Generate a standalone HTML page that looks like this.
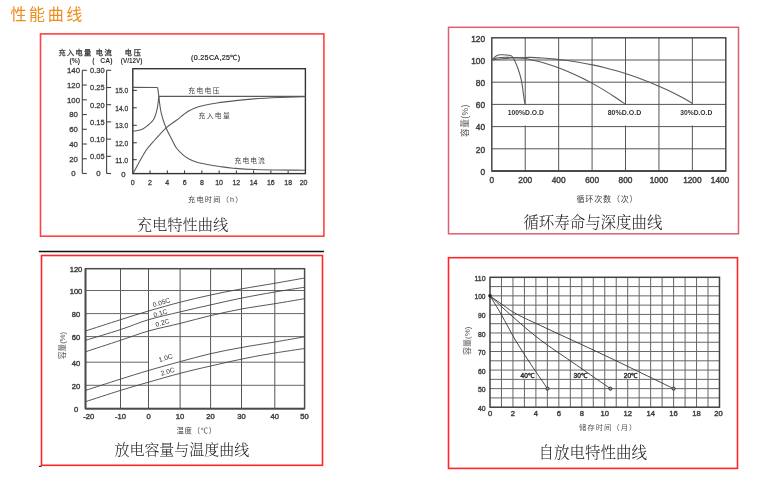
<!DOCTYPE html><html><head><meta charset="utf-8"><title>性能曲线</title>
<style>html,body{margin:0;padding:0;background:#fff;width:773px;height:486px;overflow:hidden}svg{display:block;will-change:transform}</style></head><body>
<svg width="773" height="486" viewBox="0 0 773 486">
<text x="10.5" y="20" font-size="16" text-anchor="start" fill="#ee8c1c" font-family="'Liberation Sans', 'Noto Sans CJK SC', sans-serif" font-weight="normal" letter-spacing="2.6">性能曲线</text>
<rect x="40.5" y="33.9" width="283.4" height="202.3" fill="none" stroke="#ff4242" stroke-width="1.6"/>
<rect x="448.5" y="27.3" width="290" height="206.5" fill="none" stroke="#dc6070" stroke-width="1.5"/>
<rect x="41.5" y="255.5" width="281" height="209.8" fill="none" stroke="#ff2626" stroke-width="1.6"/>
<rect x="448.5" y="257.7" width="289" height="210.7" fill="none" stroke="#ff2626" stroke-width="1.6"/>
<line x1="38.8" y1="251.5" x2="324" y2="251.5" stroke="#111" stroke-width="1.6"/>
<line x1="39" y1="466.4" x2="41.5" y2="466.4" stroke="#222" stroke-width="1.2"/>
<rect x="132.8" y="68.7" width="172.6" height="104.9" fill="none" stroke="#333" stroke-width="1.4"/>
<text x="132.8" y="185.2" font-size="7.0" text-anchor="middle" fill="#3a3a3a" font-family="'Liberation Sans', Arial, sans-serif" font-weight="normal"  stroke="#3a3a3a" stroke-width="0.28">0</text>
<line x1="150.06" y1="173.6" x2="150.06" y2="170.4" stroke="#333" stroke-width="1"/>
<text x="150.06" y="185.2" font-size="7.0" text-anchor="middle" fill="#3a3a3a" font-family="'Liberation Sans', Arial, sans-serif" font-weight="normal"  stroke="#3a3a3a" stroke-width="0.28">2</text>
<line x1="167.32" y1="173.6" x2="167.32" y2="170.4" stroke="#333" stroke-width="1"/>
<text x="167.32" y="185.2" font-size="7.0" text-anchor="middle" fill="#3a3a3a" font-family="'Liberation Sans', Arial, sans-serif" font-weight="normal"  stroke="#3a3a3a" stroke-width="0.28">4</text>
<line x1="184.58" y1="173.6" x2="184.58" y2="170.4" stroke="#333" stroke-width="1"/>
<text x="184.58" y="185.2" font-size="7.0" text-anchor="middle" fill="#3a3a3a" font-family="'Liberation Sans', Arial, sans-serif" font-weight="normal"  stroke="#3a3a3a" stroke-width="0.28">6</text>
<line x1="201.84" y1="173.6" x2="201.84" y2="170.4" stroke="#333" stroke-width="1"/>
<text x="201.84" y="185.2" font-size="7.0" text-anchor="middle" fill="#3a3a3a" font-family="'Liberation Sans', Arial, sans-serif" font-weight="normal"  stroke="#3a3a3a" stroke-width="0.28">8</text>
<line x1="219.1" y1="173.6" x2="219.1" y2="170.4" stroke="#333" stroke-width="1"/>
<text x="219.1" y="185.2" font-size="7.0" text-anchor="middle" fill="#3a3a3a" font-family="'Liberation Sans', Arial, sans-serif" font-weight="normal"  stroke="#3a3a3a" stroke-width="0.28">10</text>
<line x1="236.36" y1="173.6" x2="236.36" y2="170.4" stroke="#333" stroke-width="1"/>
<text x="236.36" y="185.2" font-size="7.0" text-anchor="middle" fill="#3a3a3a" font-family="'Liberation Sans', Arial, sans-serif" font-weight="normal"  stroke="#3a3a3a" stroke-width="0.28">12</text>
<line x1="253.62" y1="173.6" x2="253.62" y2="170.4" stroke="#333" stroke-width="1"/>
<text x="253.62" y="185.2" font-size="7.0" text-anchor="middle" fill="#3a3a3a" font-family="'Liberation Sans', Arial, sans-serif" font-weight="normal"  stroke="#3a3a3a" stroke-width="0.28">14</text>
<line x1="270.88" y1="173.6" x2="270.88" y2="170.4" stroke="#333" stroke-width="1"/>
<text x="270.88" y="185.2" font-size="7.0" text-anchor="middle" fill="#3a3a3a" font-family="'Liberation Sans', Arial, sans-serif" font-weight="normal"  stroke="#3a3a3a" stroke-width="0.28">16</text>
<line x1="288.14" y1="173.6" x2="288.14" y2="170.4" stroke="#333" stroke-width="1"/>
<text x="288.14" y="185.2" font-size="7.0" text-anchor="middle" fill="#3a3a3a" font-family="'Liberation Sans', Arial, sans-serif" font-weight="normal"  stroke="#3a3a3a" stroke-width="0.28">18</text>
<text x="303.6" y="185.2" font-size="7.0" text-anchor="middle" fill="#3a3a3a" font-family="'Liberation Sans', Arial, sans-serif" font-weight="normal"  stroke="#3a3a3a" stroke-width="0.28">20</text>
<line x1="132.8" y1="90.4" x2="136.8" y2="90.4" stroke="#333" stroke-width="1"/>
<text x="121.7" y="93.4" font-size="7.8" text-anchor="middle" fill="#3a3a3a" font-family="'Liberation Sans', Arial, sans-serif" font-weight="normal" textLength="13" lengthAdjust="spacingAndGlyphs" stroke="#3a3a3a" stroke-width="0.28">15.0</text>
<line x1="132.8" y1="107.8" x2="136.8" y2="107.8" stroke="#333" stroke-width="1"/>
<text x="121.7" y="110.8" font-size="7.8" text-anchor="middle" fill="#3a3a3a" font-family="'Liberation Sans', Arial, sans-serif" font-weight="normal" textLength="13" lengthAdjust="spacingAndGlyphs" stroke="#3a3a3a" stroke-width="0.28">14.0</text>
<line x1="132.8" y1="125.3" x2="136.8" y2="125.3" stroke="#333" stroke-width="1"/>
<text x="121.7" y="128.3" font-size="7.8" text-anchor="middle" fill="#3a3a3a" font-family="'Liberation Sans', Arial, sans-serif" font-weight="normal" textLength="13" lengthAdjust="spacingAndGlyphs" stroke="#3a3a3a" stroke-width="0.28">13.0</text>
<line x1="132.8" y1="142.8" x2="136.8" y2="142.8" stroke="#333" stroke-width="1"/>
<text x="121.7" y="145.8" font-size="7.8" text-anchor="middle" fill="#3a3a3a" font-family="'Liberation Sans', Arial, sans-serif" font-weight="normal" textLength="13" lengthAdjust="spacingAndGlyphs" stroke="#3a3a3a" stroke-width="0.28">12.0</text>
<line x1="132.8" y1="159.7" x2="136.8" y2="159.7" stroke="#333" stroke-width="1"/>
<text x="121.7" y="162.7" font-size="7.8" text-anchor="middle" fill="#3a3a3a" font-family="'Liberation Sans', Arial, sans-serif" font-weight="normal" textLength="13" lengthAdjust="spacingAndGlyphs" stroke="#3a3a3a" stroke-width="0.28">11.0</text>
<text x="123.3" y="176.5" font-size="7.8" text-anchor="middle" fill="#3a3a3a" font-family="'Liberation Sans', Arial, sans-serif" font-weight="normal"  stroke="#3a3a3a" stroke-width="0.28">0</text>
<line x1="82.3" y1="70.3" x2="82.3" y2="173.5" stroke="#444" stroke-width="1.1"/>
<line x1="82.3" y1="173.5" x2="86.8" y2="173.5" stroke="#444" stroke-width="1.1"/>
<text x="73.5" y="176.3" font-size="7.8" text-anchor="middle" fill="#3a3a3a" font-family="'Liberation Sans', Arial, sans-serif" font-weight="normal"  stroke="#3a3a3a" stroke-width="0.28">0</text>
<line x1="82.3" y1="158.76" x2="86.8" y2="158.76" stroke="#444" stroke-width="1.1"/>
<text x="73.5" y="161.56" font-size="7.8" text-anchor="middle" fill="#3a3a3a" font-family="'Liberation Sans', Arial, sans-serif" font-weight="normal"  stroke="#3a3a3a" stroke-width="0.28">20</text>
<line x1="82.3" y1="144.01" x2="86.8" y2="144.01" stroke="#444" stroke-width="1.1"/>
<text x="73.5" y="146.81" font-size="7.8" text-anchor="middle" fill="#3a3a3a" font-family="'Liberation Sans', Arial, sans-serif" font-weight="normal"  stroke="#3a3a3a" stroke-width="0.28">40</text>
<line x1="82.3" y1="129.27" x2="86.8" y2="129.27" stroke="#444" stroke-width="1.1"/>
<text x="73.5" y="132.07" font-size="7.8" text-anchor="middle" fill="#3a3a3a" font-family="'Liberation Sans', Arial, sans-serif" font-weight="normal"  stroke="#3a3a3a" stroke-width="0.28">60</text>
<line x1="82.3" y1="114.53" x2="86.8" y2="114.53" stroke="#444" stroke-width="1.1"/>
<text x="73.5" y="117.33" font-size="7.8" text-anchor="middle" fill="#3a3a3a" font-family="'Liberation Sans', Arial, sans-serif" font-weight="normal"  stroke="#3a3a3a" stroke-width="0.28">80</text>
<line x1="82.3" y1="99.79" x2="86.8" y2="99.79" stroke="#444" stroke-width="1.1"/>
<text x="73.5" y="102.59" font-size="7.8" text-anchor="middle" fill="#3a3a3a" font-family="'Liberation Sans', Arial, sans-serif" font-weight="normal"  stroke="#3a3a3a" stroke-width="0.28">100</text>
<line x1="82.3" y1="85.04" x2="86.8" y2="85.04" stroke="#444" stroke-width="1.1"/>
<text x="73.5" y="87.84" font-size="7.8" text-anchor="middle" fill="#3a3a3a" font-family="'Liberation Sans', Arial, sans-serif" font-weight="normal"  stroke="#3a3a3a" stroke-width="0.28">120</text>
<line x1="82.3" y1="70.3" x2="86.8" y2="70.3" stroke="#444" stroke-width="1.1"/>
<text x="73.5" y="73.1" font-size="7.8" text-anchor="middle" fill="#3a3a3a" font-family="'Liberation Sans', Arial, sans-serif" font-weight="normal"  stroke="#3a3a3a" stroke-width="0.28">140</text>
<line x1="106.6" y1="70.3" x2="106.6" y2="173.5" stroke="#444" stroke-width="1.1"/>
<line x1="106.6" y1="173.5" x2="111.1" y2="173.5" stroke="#444" stroke-width="1.1"/>
<text x="98.3" y="176.3" font-size="7.8" text-anchor="middle" fill="#3a3a3a" font-family="'Liberation Sans', Arial, sans-serif" font-weight="normal"  stroke="#3a3a3a" stroke-width="0.28">0</text>
<line x1="106.6" y1="156.3" x2="111.1" y2="156.3" stroke="#444" stroke-width="1.1"/>
<text x="97.3" y="159.1" font-size="7.8" text-anchor="middle" fill="#3a3a3a" font-family="'Liberation Sans', Arial, sans-serif" font-weight="normal" textLength="14.5" lengthAdjust="spacingAndGlyphs" stroke="#3a3a3a" stroke-width="0.28">0.05</text>
<line x1="106.6" y1="139.1" x2="111.1" y2="139.1" stroke="#444" stroke-width="1.1"/>
<text x="97.3" y="141.9" font-size="7.8" text-anchor="middle" fill="#3a3a3a" font-family="'Liberation Sans', Arial, sans-serif" font-weight="normal" textLength="14.5" lengthAdjust="spacingAndGlyphs" stroke="#3a3a3a" stroke-width="0.28">0.10</text>
<line x1="106.6" y1="121.9" x2="111.1" y2="121.9" stroke="#444" stroke-width="1.1"/>
<text x="97.3" y="124.7" font-size="7.8" text-anchor="middle" fill="#3a3a3a" font-family="'Liberation Sans', Arial, sans-serif" font-weight="normal" textLength="14.5" lengthAdjust="spacingAndGlyphs" stroke="#3a3a3a" stroke-width="0.28">0.15</text>
<line x1="106.6" y1="104.7" x2="111.1" y2="104.7" stroke="#444" stroke-width="1.1"/>
<text x="97.3" y="107.5" font-size="7.8" text-anchor="middle" fill="#3a3a3a" font-family="'Liberation Sans', Arial, sans-serif" font-weight="normal" textLength="14.5" lengthAdjust="spacingAndGlyphs" stroke="#3a3a3a" stroke-width="0.28">0.20</text>
<line x1="106.6" y1="87.5" x2="111.1" y2="87.5" stroke="#444" stroke-width="1.1"/>
<text x="97.3" y="90.3" font-size="7.8" text-anchor="middle" fill="#3a3a3a" font-family="'Liberation Sans', Arial, sans-serif" font-weight="normal" textLength="14.5" lengthAdjust="spacingAndGlyphs" stroke="#3a3a3a" stroke-width="0.28">0.25</text>
<line x1="106.6" y1="70.3" x2="111.1" y2="70.3" stroke="#444" stroke-width="1.1"/>
<text x="97.3" y="73.1" font-size="7.8" text-anchor="middle" fill="#3a3a3a" font-family="'Liberation Sans', Arial, sans-serif" font-weight="normal" textLength="14.5" lengthAdjust="spacingAndGlyphs" stroke="#3a3a3a" stroke-width="0.28">0.30</text>
<text x="58.5" y="54.8" font-size="7.2" text-anchor="start" fill="#333" font-family="'Liberation Sans', 'Noto Sans CJK SC', sans-serif" font-weight="normal" letter-spacing="1.35" stroke="#333" stroke-width="0.25">充入电量</text>
<text x="95.8" y="54.8" font-size="7.2" text-anchor="start" fill="#333" font-family="'Liberation Sans', 'Noto Sans CJK SC', sans-serif" font-weight="normal" letter-spacing="1.6" stroke="#333" stroke-width="0.25">电流</text>
<text x="124.8" y="54.8" font-size="7.2" text-anchor="start" fill="#333" font-family="'Liberation Sans', 'Noto Sans CJK SC', sans-serif" font-weight="normal" letter-spacing="1.8" stroke="#333" stroke-width="0.25">电压</text>
<text x="69.5" y="62.5" font-size="6.8" text-anchor="start" fill="#333" font-family="'Liberation Sans', Arial, sans-serif" font-weight="bold" >(%)</text>
<text x="92.2" y="62.5" font-size="6.8" text-anchor="start" fill="#333" font-family="'Liberation Sans', Arial, sans-serif" font-weight="bold" textLength="20.3" lengthAdjust="spacing">(&#160;&#160;&#160;CA)</text>
<text x="120.8" y="62.5" font-size="6.8" text-anchor="start" fill="#333" font-family="'Liberation Sans', Arial, sans-serif" font-weight="bold" textLength="21.5" lengthAdjust="spacingAndGlyphs">(V/12V)</text>
<text x="191" y="60.3" font-size="7.1" text-anchor="start" fill="#222" font-family="'Liberation Sans', Arial, sans-serif" font-weight="normal" stroke="#222" stroke-width="0.2" textLength="49" lengthAdjust="spacing">(0.25CA,25℃)</text>
<text x="188.3" y="93.3" font-size="6.8" text-anchor="start" fill="#444" font-family="'Liberation Sans', 'Noto Sans CJK SC', sans-serif" font-weight="normal" letter-spacing="1.35">充电电压</text>
<text x="198.5" y="118.4" font-size="6.8" text-anchor="start" fill="#444" font-family="'Liberation Sans', 'Noto Sans CJK SC', sans-serif" font-weight="normal" letter-spacing="1.35">充入电量</text>
<text x="234.6" y="163.4" font-size="6.8" text-anchor="start" fill="#444" font-family="'Liberation Sans', 'Noto Sans CJK SC', sans-serif" font-weight="normal" letter-spacing="1">充电电流</text>
<text x="188" y="201.6" font-size="7.2" text-anchor="start" fill="#444" font-family="'Liberation Sans', 'Noto Sans CJK SC', sans-serif" font-weight="normal" textLength="54.5" lengthAdjust="spacing">充电时间（h）</text>
<text x="136.8" y="229.5" font-size="15.25" text-anchor="start" fill="#222" font-family="'Liberation Serif', 'Noto Serif CJK SC', serif" font-weight="300" >充电特性曲线</text>
<path d="M133.2,131.2 C134.58,130.93 139.13,130.52 141.5,129.6 C143.87,128.68 145.38,127.38 147.4,125.7 C149.42,124.02 152.05,121.97 153.6,119.5 C155.15,117.03 155.95,113.65 156.7,110.9 C157.45,108.15 157.75,105.43 158.1,103 C158.45,100.57 158.68,97.42 158.8,96.3" fill="none" stroke="#5a5a5a" stroke-width="1.1" stroke-linejoin="round"/>
<line x1="158.8" y1="96.4" x2="305.4" y2="96.4" stroke="#5a5a5a" stroke-width="1.1"/>
<polyline points="132.8,87.4 157.6,87.5" fill="none" stroke="#5a5a5a" stroke-width="1.1" stroke-linejoin="round"/>
<path d="M157.6,87.5 C157.8,88.92 158.43,93.13 158.8,96 C159.17,98.87 159.33,101.6 159.8,104.7 C160.27,107.8 160.58,110.8 161.6,114.6 C162.62,118.4 164.15,123.27 165.9,127.5 C167.65,131.73 170.35,136.58 172.1,140 C173.85,143.42 174.48,145.45 176.4,148 C178.32,150.55 181.33,153.38 183.6,155.3 C185.87,157.22 187.77,158.33 190,159.5 C192.23,160.67 194.12,161.47 197,162.3 C199.88,163.13 203.51,163.8 207.3,164.5 C211.09,165.2 215.47,165.88 219.75,166.5 C224.03,167.12 227.24,167.7 233,168.2 C238.76,168.7 242.3,169.15 254.3,169.5 C266.3,169.85 296.55,170.17 305,170.3" fill="none" stroke="#5a5a5a" stroke-width="1.1" stroke-linejoin="round"/>
<path d="M133.2,173.3 C134.4,171.08 138.1,164.05 140.4,160 C142.7,155.95 144.6,152.33 147,149 C149.4,145.67 151.65,143.48 154.8,140 C157.95,136.52 162.3,131.38 165.9,128.1 C169.5,124.82 172.75,123.07 176.4,120.3 C180.05,117.53 184.12,113.77 187.8,111.5 C191.48,109.23 193.63,108.12 198.5,106.7 C203.37,105.28 210.82,104.02 217,103 C223.18,101.98 229.43,101.28 235.6,100.6 C241.77,99.92 246.6,99.42 254,98.9 C261.4,98.38 271.5,97.88 280,97.5 C288.5,97.12 300.83,96.75 305,96.6" fill="none" stroke="#5a5a5a" stroke-width="1.1" stroke-linejoin="round"/>
<line x1="525.23" y1="37.8" x2="525.23" y2="171" stroke="#555" stroke-width="1"/>
<line x1="558.66" y1="37.8" x2="558.66" y2="171" stroke="#555" stroke-width="1"/>
<line x1="592.09" y1="37.8" x2="592.09" y2="171" stroke="#555" stroke-width="1"/>
<line x1="625.51" y1="37.8" x2="625.51" y2="171" stroke="#555" stroke-width="1"/>
<line x1="658.94" y1="37.8" x2="658.94" y2="171" stroke="#555" stroke-width="1"/>
<line x1="692.37" y1="37.8" x2="692.37" y2="171" stroke="#555" stroke-width="1"/>
<line x1="491.8" y1="60" x2="725.8" y2="60" stroke="#555" stroke-width="1"/>
<line x1="491.8" y1="82.2" x2="725.8" y2="82.2" stroke="#555" stroke-width="1"/>
<line x1="491.8" y1="104.4" x2="725.8" y2="104.4" stroke="#555" stroke-width="1"/>
<line x1="491.8" y1="126.6" x2="725.8" y2="126.6" stroke="#555" stroke-width="1"/>
<line x1="491.8" y1="148.8" x2="725.8" y2="148.8" stroke="#555" stroke-width="1"/>
<rect x="491.8" y="37.8" width="234" height="133.2" fill="none" stroke="#4a4a4a" stroke-width="1.5"/>
<line x1="491.8" y1="171" x2="725.8" y2="171" stroke="#4a4a4a" stroke-width="1.8"/>
<text x="485" y="174.8" font-size="8.3" text-anchor="end" fill="#444" font-family="'Liberation Sans', Arial, sans-serif" font-weight="normal"  stroke="#444" stroke-width="0.45">0</text>
<text x="485" y="152.6" font-size="8.3" text-anchor="end" fill="#444" font-family="'Liberation Sans', Arial, sans-serif" font-weight="normal"  stroke="#444" stroke-width="0.45">20</text>
<text x="485" y="130.4" font-size="8.3" text-anchor="end" fill="#444" font-family="'Liberation Sans', Arial, sans-serif" font-weight="normal"  stroke="#444" stroke-width="0.45">40</text>
<text x="485" y="108.2" font-size="8.3" text-anchor="end" fill="#444" font-family="'Liberation Sans', Arial, sans-serif" font-weight="normal"  stroke="#444" stroke-width="0.45">60</text>
<text x="485" y="86" font-size="8.3" text-anchor="end" fill="#444" font-family="'Liberation Sans', Arial, sans-serif" font-weight="normal"  stroke="#444" stroke-width="0.45">80</text>
<text x="485" y="63.8" font-size="8.3" text-anchor="end" fill="#444" font-family="'Liberation Sans', Arial, sans-serif" font-weight="normal"  stroke="#444" stroke-width="0.45">100</text>
<text x="485" y="41.6" font-size="8.3" text-anchor="end" fill="#444" font-family="'Liberation Sans', Arial, sans-serif" font-weight="normal"  stroke="#444" stroke-width="0.45">120</text>
<text x="491.8" y="182.6" font-size="8.3" text-anchor="middle" fill="#444" font-family="'Liberation Sans', Arial, sans-serif" font-weight="normal"  stroke="#444" stroke-width="0.45">0</text>
<text x="525.23" y="182.6" font-size="8.3" text-anchor="middle" fill="#444" font-family="'Liberation Sans', Arial, sans-serif" font-weight="normal"  stroke="#444" stroke-width="0.45">200</text>
<text x="558.66" y="182.6" font-size="8.3" text-anchor="middle" fill="#444" font-family="'Liberation Sans', Arial, sans-serif" font-weight="normal"  stroke="#444" stroke-width="0.45">400</text>
<text x="592.09" y="182.6" font-size="8.3" text-anchor="middle" fill="#444" font-family="'Liberation Sans', Arial, sans-serif" font-weight="normal"  stroke="#444" stroke-width="0.45">600</text>
<text x="625.51" y="182.6" font-size="8.3" text-anchor="middle" fill="#444" font-family="'Liberation Sans', Arial, sans-serif" font-weight="normal"  stroke="#444" stroke-width="0.45">800</text>
<text x="658.94" y="182.6" font-size="8.3" text-anchor="middle" fill="#444" font-family="'Liberation Sans', Arial, sans-serif" font-weight="normal"  stroke="#444" stroke-width="0.45">1000</text>
<text x="692.37" y="182.6" font-size="8.3" text-anchor="middle" fill="#444" font-family="'Liberation Sans', Arial, sans-serif" font-weight="normal"  stroke="#444" stroke-width="0.45">1200</text>
<text x="720" y="182.6" font-size="8.3" text-anchor="middle" fill="#444" font-family="'Liberation Sans', Arial, sans-serif" font-weight="normal"  stroke="#444" stroke-width="0.45">1400</text>
<rect x="506.5" y="105" width="38.5" height="20.5" fill="#fff"/>
<text x="507.7" y="115.3" font-size="6.8" text-anchor="start" fill="#333" font-family="'Liberation Sans', Arial, sans-serif" font-weight="bold" textLength="36.1" lengthAdjust="spacingAndGlyphs">100%D.O.D</text>
<rect x="606.5" y="105" width="36" height="20.5" fill="#fff"/>
<text x="607.7" y="115.3" font-size="6.8" text-anchor="start" fill="#333" font-family="'Liberation Sans', Arial, sans-serif" font-weight="bold" textLength="33.6" lengthAdjust="spacingAndGlyphs">80%D.O.D</text>
<rect x="679" y="105" width="34.5" height="20.5" fill="#fff"/>
<text x="680.2" y="115.3" font-size="6.8" text-anchor="start" fill="#333" font-family="'Liberation Sans', Arial, sans-serif" font-weight="bold" textLength="32.1" lengthAdjust="spacingAndGlyphs">30%D.O.D</text>
<path d="M491.8,59.8 C492.72,59.05 495.43,56.13 497.3,55.3 C499.17,54.47 501.05,54.8 503,54.8 C504.95,54.8 507.4,54.93 509,55.3 C510.6,55.67 511.18,55 512.6,57 C514.02,59 516.03,63.42 517.5,67.3 C518.97,71.18 520.43,75.98 521.4,80.3 C522.37,84.62 522.73,89.3 523.3,93.2 C523.87,97.1 524.55,101.95 524.8,103.7" fill="none" stroke="#5a5a5a" stroke-width="1.1" stroke-linejoin="round"/>
<path d="M491.8,59.8 C492.83,59.47 495.8,58.23 498,57.8 C500.2,57.37 502.17,57.23 505,57.2 C507.83,57.17 512.17,57.45 515,57.6 C517.83,57.75 519.83,57.87 522,58.1 C524.17,58.33 525.2,58.41 528,58.99 C530.8,59.56 535.2,60.61 538.8,61.57 C542.4,62.53 546,63.6 549.6,64.76 C553.2,65.93 556.8,67.2 560.4,68.57 C564,69.93 567.6,71.4 571.2,72.98 C574.8,74.55 578.4,76.22 582,77.99 C585.6,79.77 589.2,81.64 592.8,83.62 C596.4,85.6 600,87.68 603.6,89.86 C607.2,92.04 610.8,94.32 614.4,96.7 C618,99.08 623.4,102.91 625.2,104.15" fill="none" stroke="#5a5a5a" stroke-width="1.1" stroke-linejoin="round"/>
<path d="M491.8,59.8 C493.17,59.67 496.63,59.3 500,59 C503.37,58.7 508.33,58.22 512,58 C515.67,57.78 519,57.8 522,57.7 C525,57.6 526.58,57.34 530,57.4 C533.42,57.46 538.33,57.77 542.49,58.06 C546.66,58.34 550.82,58.69 554.98,59.11 C559.15,59.53 563.31,60.01 567.48,60.57 C571.64,61.13 575.81,61.76 579.97,62.48 C584.13,63.19 588.3,63.97 592.46,64.84 C596.63,65.71 600.79,66.66 604.95,67.69 C609.12,68.73 613.28,69.84 617.45,71.05 C621.61,72.26 625.77,73.55 629.94,74.94 C634.1,76.33 638.27,77.81 642.43,79.39 C646.59,80.97 650.76,82.64 654.92,84.42 C659.09,86.2 663.25,88.07 667.42,90.05 C671.58,92.03 675.74,94.11 679.91,96.31 C684.07,98.5 690.32,102.06 692.4,103.22" fill="none" stroke="#5a5a5a" stroke-width="1.1" stroke-linejoin="round"/>
<text x="467.5" y="120.5" font-size="8.6" text-anchor="middle" fill="#555" font-family="'Liberation Sans', 'Noto Sans CJK SC', sans-serif" font-weight="normal" letter-spacing="0.45" transform="rotate(-90 467.5 120.5)">容量(%)</text>
<text x="576.5" y="201.5" font-size="8.1" text-anchor="start" fill="#444" font-family="'Liberation Sans', 'Noto Sans CJK SC', sans-serif" font-weight="normal" letter-spacing="0.75">循环次数（次）</text>
<text x="523.4" y="228.4" font-size="15.45" text-anchor="start" fill="#222" font-family="'Liberation Serif', 'Noto Serif CJK SC', serif" font-weight="300" >循环寿命与深度曲线</text>
<line x1="120.5" y1="268.7" x2="120.5" y2="408.7" stroke="#555" stroke-width="1"/>
<line x1="148.5" y1="268.7" x2="148.5" y2="408.7" stroke="#555" stroke-width="1"/>
<line x1="180.1" y1="268.7" x2="180.1" y2="408.7" stroke="#555" stroke-width="1"/>
<line x1="210.6" y1="268.7" x2="210.6" y2="408.7" stroke="#555" stroke-width="1"/>
<line x1="241.5" y1="268.7" x2="241.5" y2="408.7" stroke="#555" stroke-width="1"/>
<line x1="274.8" y1="268.7" x2="274.8" y2="408.7" stroke="#555" stroke-width="1"/>
<line x1="85.5" y1="290.5" x2="304.6" y2="290.5" stroke="#666" stroke-width="1"/>
<line x1="85.5" y1="336.6" x2="304.6" y2="336.6" stroke="#666" stroke-width="1"/>
<line x1="85.5" y1="385.3" x2="304.6" y2="385.3" stroke="#666" stroke-width="1"/>
<line x1="85.5" y1="313.6" x2="148.5" y2="313.6" stroke="#666" stroke-width="1"/>
<line x1="180.1" y1="313.6" x2="304.6" y2="313.6" stroke="#666" stroke-width="1"/>
<line x1="85.5" y1="362.2" x2="148.5" y2="362.2" stroke="#666" stroke-width="1"/>
<line x1="180.1" y1="362.2" x2="304.6" y2="362.2" stroke="#666" stroke-width="1"/>
<rect x="85.5" y="268.7" width="219.1" height="140" fill="none" stroke="#4a4a4a" stroke-width="1.5"/>
<line x1="85.5" y1="408.7" x2="304.6" y2="408.7" stroke="#4a4a4a" stroke-width="1.7"/>
<line x1="85.5" y1="268.7" x2="85.5" y2="408.7" stroke="#4a4a4a" stroke-width="1.7"/>
<text x="76" y="272" font-size="7.6" text-anchor="middle" fill="#444" font-family="'Liberation Sans', Arial, sans-serif" font-weight="normal"  stroke="#444" stroke-width="0.45">120</text>
<text x="76" y="293.8" font-size="7.6" text-anchor="middle" fill="#444" font-family="'Liberation Sans', Arial, sans-serif" font-weight="normal"  stroke="#444" stroke-width="0.45">100</text>
<text x="76" y="316.9" font-size="7.6" text-anchor="middle" fill="#444" font-family="'Liberation Sans', Arial, sans-serif" font-weight="normal"  stroke="#444" stroke-width="0.45">80</text>
<text x="76" y="339.9" font-size="7.6" text-anchor="middle" fill="#444" font-family="'Liberation Sans', Arial, sans-serif" font-weight="normal"  stroke="#444" stroke-width="0.45">60</text>
<text x="76" y="365.5" font-size="7.6" text-anchor="middle" fill="#444" font-family="'Liberation Sans', Arial, sans-serif" font-weight="normal"  stroke="#444" stroke-width="0.45">40</text>
<text x="76" y="388.6" font-size="7.6" text-anchor="middle" fill="#444" font-family="'Liberation Sans', Arial, sans-serif" font-weight="normal"  stroke="#444" stroke-width="0.45">20</text>
<text x="76" y="412" font-size="7.6" text-anchor="middle" fill="#444" font-family="'Liberation Sans', Arial, sans-serif" font-weight="normal"  stroke="#444" stroke-width="0.45">0</text>
<text x="88.8" y="419.2" font-size="7.6" text-anchor="middle" fill="#444" font-family="'Liberation Sans', Arial, sans-serif" font-weight="normal"  stroke="#444" stroke-width="0.45">-20</text>
<text x="120.5" y="419.2" font-size="7.6" text-anchor="middle" fill="#444" font-family="'Liberation Sans', Arial, sans-serif" font-weight="normal"  stroke="#444" stroke-width="0.45">-10</text>
<text x="148.5" y="419.2" font-size="7.6" text-anchor="middle" fill="#444" font-family="'Liberation Sans', Arial, sans-serif" font-weight="normal"  stroke="#444" stroke-width="0.45">0</text>
<text x="180.1" y="419.2" font-size="7.6" text-anchor="middle" fill="#444" font-family="'Liberation Sans', Arial, sans-serif" font-weight="normal"  stroke="#444" stroke-width="0.45">10</text>
<text x="210.6" y="419.2" font-size="7.6" text-anchor="middle" fill="#444" font-family="'Liberation Sans', Arial, sans-serif" font-weight="normal"  stroke="#444" stroke-width="0.45">20</text>
<text x="241.5" y="419.2" font-size="7.6" text-anchor="middle" fill="#444" font-family="'Liberation Sans', Arial, sans-serif" font-weight="normal"  stroke="#444" stroke-width="0.45">30</text>
<text x="274.8" y="419.2" font-size="7.6" text-anchor="middle" fill="#444" font-family="'Liberation Sans', Arial, sans-serif" font-weight="normal"  stroke="#444" stroke-width="0.45">40</text>
<text x="304.6" y="419.2" font-size="7.6" text-anchor="middle" fill="#444" font-family="'Liberation Sans', Arial, sans-serif" font-weight="normal"  stroke="#444" stroke-width="0.45">50</text>
<path d="M85.5,331 C91.33,329.12 110,323.03 120.5,319.7 C131,316.37 138.55,313.92 148.5,311 C158.45,308.08 169.85,304.87 180.2,302.2 C190.55,299.53 200.38,297.22 210.6,295 C220.82,292.78 230.8,290.85 241.5,288.9 C252.2,286.95 264.28,285.12 274.8,283.3 C285.32,281.48 299.63,278.88 304.6,278" fill="none" stroke="#444" stroke-width="0.9" stroke-linejoin="round"/>
<path d="M85.5,340.3 C91.33,338.52 110,333.03 120.5,329.6 C131,326.17 138.55,322.65 148.5,319.7 C158.45,316.75 169.85,314.37 180.2,311.9 C190.55,309.43 200.38,307.2 210.6,304.9 C220.82,302.6 230.8,300.25 241.5,298.1 C252.2,295.95 264.28,293.82 274.8,292 C285.32,290.18 299.63,288 304.6,287.2" fill="none" stroke="#444" stroke-width="0.9" stroke-linejoin="round"/>
<path d="M85.5,351.8 C91.33,349.88 110,343.77 120.5,340.3 C131,336.83 138.55,333.82 148.5,331 C158.45,328.18 169.85,325.97 180.2,323.4 C190.55,320.83 200.38,318 210.6,315.6 C220.82,313.2 230.8,310.98 241.5,309 C252.2,307.02 264.28,305.42 274.8,303.7 C285.32,301.98 299.63,299.53 304.6,298.7" fill="none" stroke="#444" stroke-width="0.9" stroke-linejoin="round"/>
<path d="M85.5,390.4 C91.33,388.52 110,382.42 120.5,379.1 C131,375.78 138.55,373.42 148.5,370.5 C158.45,367.58 169.85,364.4 180.2,361.6 C190.55,358.8 200.38,356.05 210.6,353.7 C220.82,351.35 230.8,349.45 241.5,347.5 C252.2,345.55 264.28,343.78 274.8,342 C285.32,340.22 299.63,337.67 304.6,336.8" fill="none" stroke="#444" stroke-width="0.9" stroke-linejoin="round"/>
<path d="M85.5,401.7 C91.33,399.82 110,393.65 120.5,390.4 C131,387.15 138.55,385.05 148.5,382.2 C158.45,379.35 169.85,376 180.2,373.3 C190.55,370.6 199.47,368.55 210.6,366 C221.73,363.45 236.3,360.17 247,358 C257.7,355.83 265.2,354.58 274.8,353 C284.4,351.42 299.63,349.25 304.6,348.5" fill="none" stroke="#444" stroke-width="0.9" stroke-linejoin="round"/>
<text x="153.6" y="307.3" font-size="6.7" text-anchor="start" fill="#333" font-family="'Liberation Sans', Arial, sans-serif" font-weight="normal" transform="rotate(-17 153.6 307.3)">0.05C</text>
<text x="154.3" y="317.5" font-size="6.7" text-anchor="start" fill="#333" font-family="'Liberation Sans', Arial, sans-serif" font-weight="normal" transform="rotate(-17 154.3 317.5)">0.1C</text>
<text x="156.3" y="327" font-size="6.7" text-anchor="start" fill="#333" font-family="'Liberation Sans', Arial, sans-serif" font-weight="normal" transform="rotate(-17 156.3 327)">0.2C</text>
<text x="159.6" y="362.2" font-size="6.7" text-anchor="start" fill="#333" font-family="'Liberation Sans', Arial, sans-serif" font-weight="normal" transform="rotate(-17 159.6 362.2)">1.0C</text>
<text x="161.6" y="375.8" font-size="6.7" text-anchor="start" fill="#333" font-family="'Liberation Sans', Arial, sans-serif" font-weight="normal" transform="rotate(-17 161.6 375.8)">2.0C</text>
<text x="65" y="345.5" font-size="7.6" text-anchor="middle" fill="#555" font-family="'Liberation Sans', 'Noto Sans CJK SC', sans-serif" font-weight="normal" transform="rotate(-90 65 345.5)">容量(%)</text>
<text x="176.5" y="433" font-size="7.4" text-anchor="start" fill="#444" font-family="'Liberation Sans', 'Noto Sans CJK SC', sans-serif" font-weight="normal" letter-spacing="0.7">温度（℃）</text>
<text x="114.5" y="455" font-size="14.96" text-anchor="start" fill="#222" font-family="'Liberation Serif', 'Noto Serif CJK SC', serif" font-weight="300" >放电容量与温度曲线</text>
<line x1="501.48" y1="277.3" x2="501.48" y2="407.2" stroke="#666" stroke-width="1"/>
<line x1="512.95" y1="277.3" x2="512.95" y2="407.2" stroke="#666" stroke-width="1"/>
<line x1="524.42" y1="277.3" x2="524.42" y2="407.2" stroke="#666" stroke-width="1"/>
<line x1="535.9" y1="277.3" x2="535.9" y2="407.2" stroke="#666" stroke-width="1"/>
<line x1="547.38" y1="277.3" x2="547.38" y2="407.2" stroke="#666" stroke-width="1"/>
<line x1="558.85" y1="277.3" x2="558.85" y2="407.2" stroke="#666" stroke-width="1"/>
<line x1="570.33" y1="277.3" x2="570.33" y2="407.2" stroke="#666" stroke-width="1"/>
<line x1="581.8" y1="277.3" x2="581.8" y2="407.2" stroke="#666" stroke-width="1"/>
<line x1="593.27" y1="277.3" x2="593.27" y2="407.2" stroke="#666" stroke-width="1"/>
<line x1="604.75" y1="277.3" x2="604.75" y2="407.2" stroke="#666" stroke-width="1"/>
<line x1="616.23" y1="277.3" x2="616.23" y2="407.2" stroke="#666" stroke-width="1"/>
<line x1="627.7" y1="277.3" x2="627.7" y2="407.2" stroke="#666" stroke-width="1"/>
<line x1="639.17" y1="277.3" x2="639.17" y2="407.2" stroke="#666" stroke-width="1"/>
<line x1="650.65" y1="277.3" x2="650.65" y2="407.2" stroke="#666" stroke-width="1"/>
<line x1="662.12" y1="277.3" x2="662.12" y2="407.2" stroke="#666" stroke-width="1"/>
<line x1="673.6" y1="277.3" x2="673.6" y2="407.2" stroke="#666" stroke-width="1"/>
<line x1="685.08" y1="277.3" x2="685.08" y2="407.2" stroke="#666" stroke-width="1"/>
<line x1="696.55" y1="277.3" x2="696.55" y2="407.2" stroke="#666" stroke-width="1"/>
<line x1="708.02" y1="277.3" x2="708.02" y2="407.2" stroke="#666" stroke-width="1"/>
<line x1="490" y1="286.58" x2="719.5" y2="286.58" stroke="#666" stroke-width="1"/>
<line x1="490" y1="295.86" x2="719.5" y2="295.86" stroke="#666" stroke-width="1"/>
<line x1="490" y1="305.14" x2="719.5" y2="305.14" stroke="#666" stroke-width="1"/>
<line x1="490" y1="314.41" x2="719.5" y2="314.41" stroke="#666" stroke-width="1"/>
<line x1="490" y1="323.69" x2="719.5" y2="323.69" stroke="#666" stroke-width="1"/>
<line x1="490" y1="332.97" x2="719.5" y2="332.97" stroke="#666" stroke-width="1"/>
<line x1="490" y1="342.25" x2="719.5" y2="342.25" stroke="#666" stroke-width="1"/>
<line x1="490" y1="351.53" x2="719.5" y2="351.53" stroke="#666" stroke-width="1"/>
<line x1="490" y1="360.81" x2="719.5" y2="360.81" stroke="#666" stroke-width="1"/>
<line x1="490" y1="370.09" x2="719.5" y2="370.09" stroke="#666" stroke-width="1"/>
<line x1="490" y1="379.36" x2="719.5" y2="379.36" stroke="#666" stroke-width="1"/>
<line x1="490" y1="388.64" x2="719.5" y2="388.64" stroke="#666" stroke-width="1"/>
<line x1="490" y1="397.92" x2="719.5" y2="397.92" stroke="#666" stroke-width="1"/>
<rect x="490" y="277.3" width="229.5" height="129.9" fill="none" stroke="#404040" stroke-width="1.5"/>
<text x="485.5" y="410.8" font-size="8" text-anchor="end" fill="#444" font-family="'Liberation Sans', Arial, sans-serif" font-weight="normal" textLength="7.6" lengthAdjust="spacingAndGlyphs" stroke="#444" stroke-width="0.45">40</text>
<text x="485.5" y="392.24" font-size="8" text-anchor="end" fill="#444" font-family="'Liberation Sans', Arial, sans-serif" font-weight="normal" textLength="7.6" lengthAdjust="spacingAndGlyphs" stroke="#444" stroke-width="0.45">50</text>
<text x="485.5" y="373.69" font-size="8" text-anchor="end" fill="#444" font-family="'Liberation Sans', Arial, sans-serif" font-weight="normal" textLength="7.6" lengthAdjust="spacingAndGlyphs" stroke="#444" stroke-width="0.45">60</text>
<text x="485.5" y="355.13" font-size="8" text-anchor="end" fill="#444" font-family="'Liberation Sans', Arial, sans-serif" font-weight="normal" textLength="7.6" lengthAdjust="spacingAndGlyphs" stroke="#444" stroke-width="0.45">70</text>
<text x="485.5" y="336.57" font-size="8" text-anchor="end" fill="#444" font-family="'Liberation Sans', Arial, sans-serif" font-weight="normal" textLength="7.6" lengthAdjust="spacingAndGlyphs" stroke="#444" stroke-width="0.45">80</text>
<text x="485.5" y="318.01" font-size="8" text-anchor="end" fill="#444" font-family="'Liberation Sans', Arial, sans-serif" font-weight="normal" textLength="7.6" lengthAdjust="spacingAndGlyphs" stroke="#444" stroke-width="0.45">90</text>
<text x="485.5" y="299.46" font-size="8" text-anchor="end" fill="#444" font-family="'Liberation Sans', Arial, sans-serif" font-weight="normal" textLength="11" lengthAdjust="spacingAndGlyphs" stroke="#444" stroke-width="0.45">100</text>
<text x="485.5" y="280.9" font-size="8" text-anchor="end" fill="#444" font-family="'Liberation Sans', Arial, sans-serif" font-weight="normal" textLength="11" lengthAdjust="spacingAndGlyphs" stroke="#444" stroke-width="0.45">110</text>
<text x="490" y="416.2" font-size="7.6" text-anchor="middle" fill="#444" font-family="'Liberation Sans', Arial, sans-serif" font-weight="normal"  stroke="#444" stroke-width="0.45">0</text>
<text x="512.95" y="416.2" font-size="7.6" text-anchor="middle" fill="#444" font-family="'Liberation Sans', Arial, sans-serif" font-weight="normal"  stroke="#444" stroke-width="0.45">2</text>
<text x="535.9" y="416.2" font-size="7.6" text-anchor="middle" fill="#444" font-family="'Liberation Sans', Arial, sans-serif" font-weight="normal"  stroke="#444" stroke-width="0.45">4</text>
<text x="558.85" y="416.2" font-size="7.6" text-anchor="middle" fill="#444" font-family="'Liberation Sans', Arial, sans-serif" font-weight="normal"  stroke="#444" stroke-width="0.45">6</text>
<text x="581.8" y="416.2" font-size="7.6" text-anchor="middle" fill="#444" font-family="'Liberation Sans', Arial, sans-serif" font-weight="normal"  stroke="#444" stroke-width="0.45">8</text>
<text x="604.75" y="416.2" font-size="7.6" text-anchor="middle" fill="#444" font-family="'Liberation Sans', Arial, sans-serif" font-weight="normal"  stroke="#444" stroke-width="0.45">10</text>
<text x="627.7" y="416.2" font-size="7.6" text-anchor="middle" fill="#444" font-family="'Liberation Sans', Arial, sans-serif" font-weight="normal"  stroke="#444" stroke-width="0.45">12</text>
<text x="650.65" y="416.2" font-size="7.6" text-anchor="middle" fill="#444" font-family="'Liberation Sans', Arial, sans-serif" font-weight="normal"  stroke="#444" stroke-width="0.45">14</text>
<text x="673.6" y="416.2" font-size="7.6" text-anchor="middle" fill="#444" font-family="'Liberation Sans', Arial, sans-serif" font-weight="normal"  stroke="#444" stroke-width="0.45">16</text>
<text x="696.55" y="416.2" font-size="7.6" text-anchor="middle" fill="#444" font-family="'Liberation Sans', Arial, sans-serif" font-weight="normal"  stroke="#444" stroke-width="0.45">18</text>
<text x="718.4" y="416.2" font-size="7.6" text-anchor="middle" fill="#444" font-family="'Liberation Sans', Arial, sans-serif" font-weight="normal"  stroke="#444" stroke-width="0.45">20</text>
<rect x="519.6" y="370.9" width="16" height="8" fill="#fff"/>
<rect x="572.6" y="370.9" width="16" height="8" fill="#fff"/>
<rect x="622.8" y="370.9" width="16" height="8" fill="#fff"/>
<path d="M490,295.86 C491.9,299 497.18,307.34 501.4,314.7 C505.62,322.06 510.37,331.7 515.3,340 C520.23,348.3 525.63,356.39 531,364.5 C536.37,372.61 544.75,384.62 547.5,388.64" fill="none" stroke="#333" stroke-width="0.9" stroke-linejoin="round"/>
<path d="M490,295.86 C493.78,299.33 504.28,309.34 512.7,316.7 C521.12,324.06 529.88,331.95 540.5,340 C551.12,348.05 564.75,356.89 576.4,365 C588.05,373.11 604.73,384.7 610.4,388.64" fill="none" stroke="#333" stroke-width="0.9" stroke-linejoin="round"/>
<path d="M490,295.86 C492.25,297.45 499.02,302.34 503.5,305.4 C507.98,308.46 509.82,310.42 516.9,314.2 C523.98,317.98 531.32,321.22 546,328.1 C560.68,334.98 583.73,345.41 605,355.5 C626.27,365.59 662.17,383.12 673.6,388.64" fill="none" stroke="#333" stroke-width="0.9" stroke-linejoin="round"/>
<circle cx="490" cy="295.86" r="1.8" fill="#222"/>
<circle cx="547.5" cy="388.64" r="1.6" fill="#888" stroke="#333" stroke-width="0.9"/>
<circle cx="610.4" cy="388.64" r="1.6" fill="#888" stroke="#333" stroke-width="0.9"/>
<circle cx="673.6" cy="388.64" r="1.6" fill="#888" stroke="#333" stroke-width="0.9"/>
<text x="520.6" y="377.9" font-size="6.8" text-anchor="start" fill="#333" font-family="'Liberation Sans', Arial, sans-serif" font-weight="normal" textLength="14" lengthAdjust="spacingAndGlyphs" stroke="#333" stroke-width="0.45">40℃</text>
<text x="573.6" y="377.9" font-size="6.8" text-anchor="start" fill="#333" font-family="'Liberation Sans', Arial, sans-serif" font-weight="normal" textLength="14" lengthAdjust="spacingAndGlyphs" stroke="#333" stroke-width="0.45">30℃</text>
<text x="623.8" y="377.9" font-size="6.8" text-anchor="start" fill="#333" font-family="'Liberation Sans', Arial, sans-serif" font-weight="normal" textLength="14" lengthAdjust="spacingAndGlyphs" stroke="#333" stroke-width="0.45">20℃</text>
<text x="470" y="340.7" font-size="8" text-anchor="middle" fill="#555" font-family="'Liberation Sans', 'Noto Sans CJK SC', sans-serif" font-weight="normal" transform="rotate(-90 470 340.7)">容量(%)</text>
<text x="579" y="430" font-size="7.4" text-anchor="start" fill="#555" font-family="'Liberation Sans', 'Noto Sans CJK SC', sans-serif" font-weight="normal" letter-spacing="0.95">储存时间（月）</text>
<text x="538.4" y="457.7" font-size="15.5" text-anchor="start" fill="#222" font-family="'Liberation Serif', 'Noto Serif CJK SC', serif" font-weight="300" >自放电特性曲线</text>
</svg></body></html>
